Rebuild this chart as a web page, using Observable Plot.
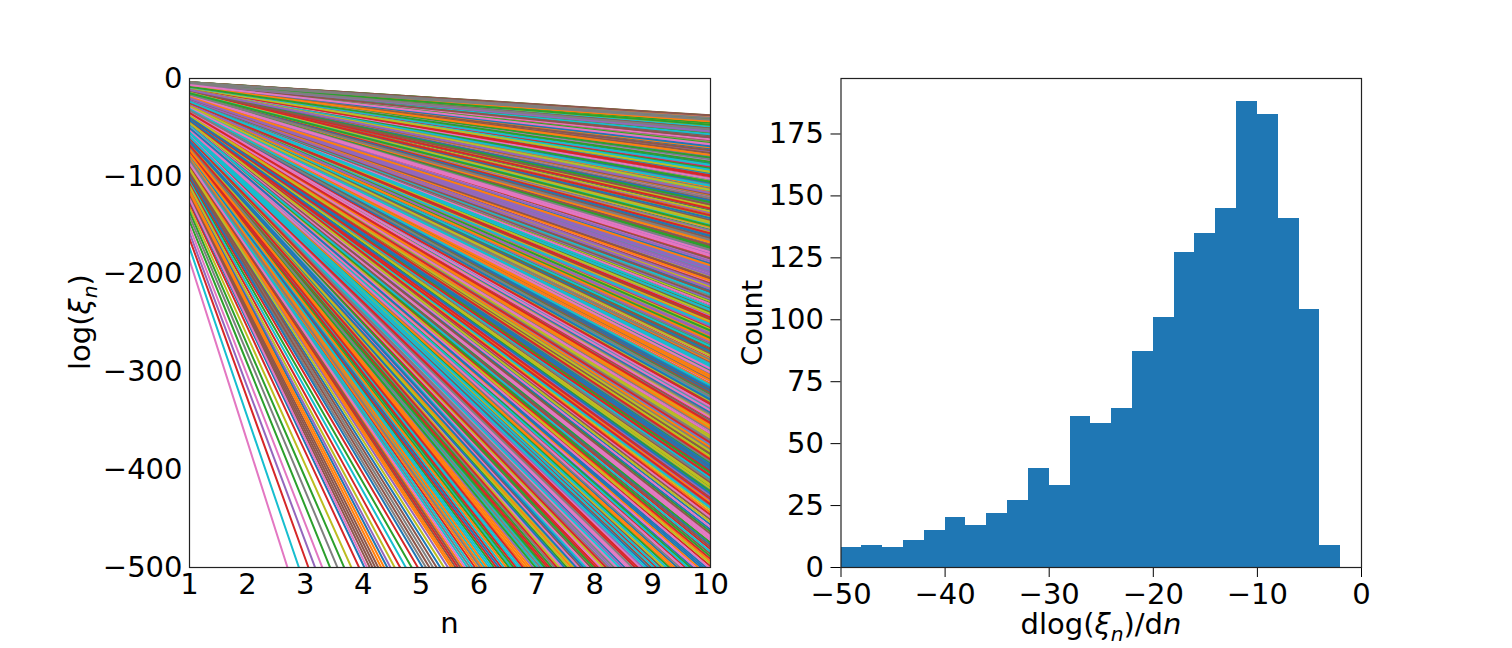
<!DOCTYPE html>
<html>
<head>
<meta charset="utf-8">
<script src="https://cdn.jsdelivr.net/npm/d3@7"></script>
<script src="https://cdn.jsdelivr.net/npm/@observablehq/plot@0.6"></script>
<style>
  html, body { margin: 0; padding: 0; background: #fff; }
  body { width: 1512px; height: 648px; overflow: hidden; position: relative; font-family: "DejaVu Sans", sans-serif; }
  #left { position: absolute; left: 0; top: 0; }
  #right { position: absolute; left: 775px; top: 0; }
</style>
</head>
<body>
<div id="left"></div>
<div id="right"></div>
<script>
// ---- Data ----
// Histogram of slopes dlog(xi_n)/dn (bins of width 2 from -50 to -2)
const binEdges = [-50,-48,-46,-44,-42,-40,-38,-36,-34,-32,-30,-28,-26,-24,-22,-20,-18,-16,-14,-12,-10,-8,-6,-4,-2];
const binCounts = [8,9,8,11,15,20,17,22,27,40,33,61,58,64,87,101,127,135,145,188,183,141,104,9];
// Steep lines outside the histogram range: counted by the n at which they leave the panel at log = -500
const tailCrossN = [2.5,3,3.5,4,4.5,5,5.5,6,6.5,7,7.5,8,8.5,9,9.5,10];
const tailCounts = [2,4,4,10,5,8,12,12,12,12,12,11,11,11,11];
// steepest and shallowest slopes seen in the left panel
const slopeLimits = [-192, -3.75];
const nValues = [1,2,3,4,5,6,7,8,9,10];
// Axis ticks
const xTicksLeft = [1,2,3,4,5,6,7,8,9,10];
const yTicksLeft = [0,-100,-200,-300,-400,-500];
const xTicksRight = [-50,-40,-30,-20,-10,0];
const yTicksRight = [0,25,50,75,100,125,150,175];
const tab10 = ["#1f77b4","#ff7f0e","#2ca02c","#d62728","#9467bd","#8c564b","#e377c2","#7f7f7f","#bcbd22","#17becf"];

// ---- Build slope list from the counted intervals ----
const intervals = [];
for (let i = 0; i < binCounts.length; i++) intervals.push([binEdges[i], binEdges[i+1], binCounts[i]]);
for (let i = 0; i < tailCounts.length; i++) intervals.push([-500 / tailCrossN[i], -500 / tailCrossN[i+1], tailCounts[i]]);
const slopes = [];
for (const [a, b, c] of intervals) {
  const lo = Math.max(Math.min(a, b), slopeLimits[0]);
  const hi = Math.min(Math.max(a, b), slopeLimits[1]);
  for (let k = 0; k < c; k++) slopes.push(lo + (k + 0.5) / c * (hi - lo));
}
// draw order / colour cycle (matplotlib assigns colours in plotting order)
function mix(i) {
  let h = Math.imul(i ^ 0x9e3779b9, 0x85ebca6b); h ^= h >>> 13;
  h = Math.imul(h, 0xc2b2ae35); h ^= h >>> 16; return h >>> 0;
}
const order = d3.range(slopes.length).sort((a, b) => mix(a) - mix(b));
const lineData = [];
order.forEach((idx, pos) => {
  for (const n of nValues) lineData.push({id: pos, n, v: slopes[idx] * n, c: pos % 10});
});
const histData = binCounts.map((c, i) => ({x1: binEdges[i], x2: binEdges[i+1], count: c}));

const FS = 29;
const style = {fontFamily: "DejaVu Sans", fontSize: FS + "px", color: "black", background: "white", overflow: "visible"};

const left = Plot.plot({
  width: 775, height: 648,
  marginLeft: 189, marginRight: 65, marginTop: 78, marginBottom: 81,
  style,
  x: {domain: [1, 10], ticks: xTicksLeft, tickSize: 0, tickPadding: 6, label: null, tickFormat: d => String(d)},
  y: {domain: [-500, 0], ticks: yTicksLeft, tickSize: 0, tickPadding: 7, label: null},
  color: {type: "ordinal", domain: d3.range(10), range: tab10},
  marks: [
    Plot.line(lineData, {x: "n", y: "v", z: "id", stroke: "c", strokeWidth: 2, clip: true}),
    Plot.frame({stroke: "#222", strokeWidth: 1.2})
  ]
});
document.getElementById("left").appendChild(left);

const right = Plot.plot({
  width: 737, height: 648,
  marginLeft: 65.5, marginRight: 151, marginTop: 78, marginBottom: 81,
  style,
  x: {domain: [-50, 0], ticks: xTicksRight, tickSize: 10, tickPadding: 6, label: null},
  y: {domain: [0, 197.4], ticks: yTicksRight, tickSize: 10, tickPadding: 7, label: null},
  marks: [
    Plot.rectY(histData, {x1: "x1", x2: "x2", y: "count", fill: "#1f77b4", inset: 0, shapeRendering: "crispEdges"}),
    Plot.frame({stroke: "#222", strokeWidth: 1.2})
  ]
});
document.getElementById("right").appendChild(right);

// ---- Axis titles (with math-style subscripts) ----
function addLabel(svg, x, y, rotate, parts) {
  const t = d3.select(svg).append("text")
    .attr("transform", `translate(${x},${y})` + (rotate ? " rotate(-90)" : ""))
    .attr("text-anchor", "middle")
    .attr("font-family", "DejaVu Sans")
    .attr("font-size", FS)
    .attr("fill", "black");
  for (const p of parts) {
    const s = t.append("tspan").text(p.t);
    if (p.i) s.attr("font-style", "italic");
    if (p.sub) s.attr("font-size", FS * 0.7).attr("dy", 7);
    if (p.up) s.attr("dy", -7);
  }
}
addLabel(left, 90, 322, true, [{t: "log("}, {t: "ξ", i: true}, {t: "n", i: true, sub: true}, {t: ")", up: true}]);
addLabel(left, 449.5, 633, false, [{t: "n"}]);
addLabel(right, 762 - 775, 323, true, [{t: "Count"}]);
addLabel(right, 1101 - 775, 634, false, [{t: "dlog("}, {t: "ξ", i: true}, {t: "n", i: true, sub: true}, {t: ")/d", up: true}, {t: "n", i: true}]);
</script>
</body>
</html>
